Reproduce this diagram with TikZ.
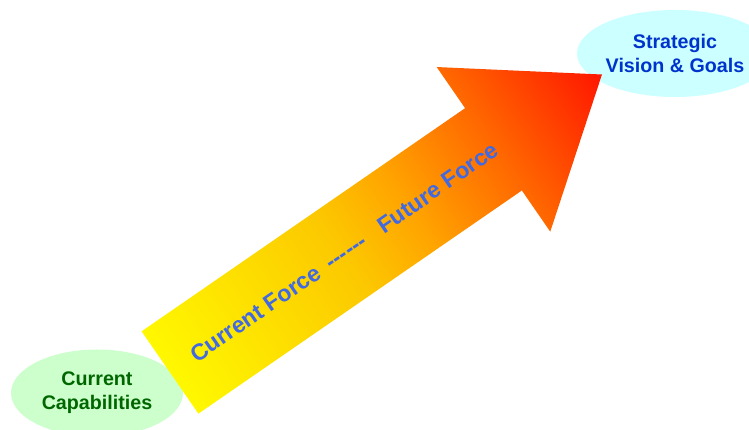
\documentclass[tikz,border=0pt]{standalone}
\usepackage{fontspec}
\setmainfont{Liberation Sans}
\usetikzlibrary{shapes.geometric, positioning}
\definecolor{capgreen}{RGB}{204,255,204}
\definecolor{goalcyan}{RGB}{204,255,255}
\definecolor{capgreentext}{RGB}{0,102,0}
\definecolor{goalbluetext}{RGB}{0,51,204}
\definecolor{forceblue}{RGB}{65,105,225}
\definecolor{arrowyellow}{RGB}{255,248,0}
\definecolor{arrowgold}{RGB}{252,200,0}
\definecolor{arroworange}{RGB}{255,165,0}
\definecolor{arrowdeep}{RGB}{255,105,0}
\definecolor{arrowred}{RGB}{255,22,0}
% yellow to red along the arrow (25bp..75bp cover the path)
\pgfdeclarehorizontalshading{forcefill}{100bp}{color(0bp)=(arrowyellow);
  color(25bp)=(arrowyellow); color(45bp)=(arrowgold); color(52.5bp)=(arroworange);
  color(62.5bp)=(arrowdeep); color(75bp)=(arrowred); color(100bp)=(arrowred)}

\begin{document}
\begin{tikzpicture}
  \tikzset{bubble/.style={ellipse, minimum width=4.3cm, minimum height=2.175cm,
        inner sep=0pt, align=center, font=\fontsize{14}{17}\selectfont\bfseries}}
  \useasboundingbox (0,0) rectangle (18.725,10.75);
  \node[bubble, fill=capgreen, text=capgreentext]
    (capab) at (2.425,0.925) {Current\\Capabilities};
  \node[bubble, fill=goalcyan, text=goalbluetext]
    (vision) at (16.875,9.4125) {Strategic\\Vision \& Goals};
  % big shaded arrow, laid out along its own axis
  \coordinate (tail) at (4.25,1.4375);
  \begin{scope}[transform canvas={shift={(tail)}, rotate=34.6}]
    \shade[shading=forcefill]
      (0,1.25) -- (9.825,1.25) -- (9.825,2.5) -- (13.12,0)
      -- (9.825,-2.5) -- (9.825,-1.25) -- (0,-1.25) -- cycle;
    \node[text=forceblue, font=\fontsize{16.4}{19}\selectfont\bfseries]
      (force) at (5.29,0) {Current Force\hspace{0.45em}\mbox{-}\mbox{-}\mbox{-}\mbox{-}\mbox{-}\mbox{-}\hspace{0.8em}Future Force};
  \end{scope}
\end{tikzpicture}
\end{document}
